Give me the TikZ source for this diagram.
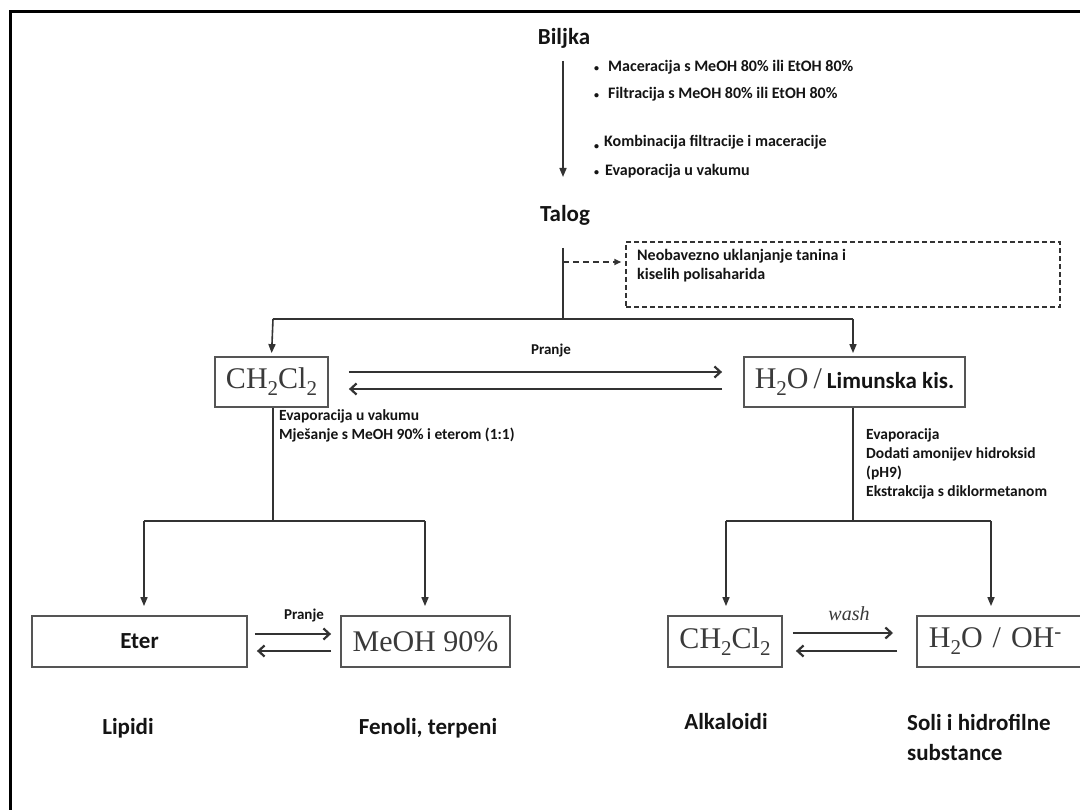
\documentclass[tikz,border=0pt]{standalone}
\usepackage{fontspec}
\setmainfont{Carlito}
\newfontfamily\tnr{Liberation Serif}
\usetikzlibrary{arrows.meta}
\definecolor{ln}{HTML}{333333}
\definecolor{bx}{HTML}{555555}
\definecolor{tx}{HTML}{141414}
\definecolor{sr}{HTML}{3A3A3A}
\newcommand{\lowtwo}{\raisebox{-7pt}{\fontsize{21}{21}\selectfont 2}}
\begin{document}
\begin{tikzpicture}[x=1pt,y=-1pt,
  flow/.style={draw=ln, line width=1.6pt, -{Triangle[length=9pt,width=7pt]}},
  conn/.style={draw=ln, line width=1.6pt},
  washarrow/.style={draw=ln, line width=2.2pt, -{Straight Barb[length=6pt,width=11pt]}},
  box/.style={draw=bx, line width=1.8pt, inner sep=0pt, minimum height=50pt, font=\tnr\fontsize{30}{32}\selectfont, text=sr},
  big/.style={font=\bfseries\fontsize{23}{26}\selectfont, text=tx, inner sep=0pt},
  bul/.style={font=\bfseries\fontsize{16}{19}\selectfont, text=tx, anchor=west, inner sep=0pt},
  note/.style={font=\bfseries\fontsize{15.5}{19}\selectfont, text=tx, align=left, inner sep=0pt},
  small/.style={font=\bfseries\fontsize{15}{18}\selectfont, text=tx, inner sep=0pt}]
\useasboundingbox (0,0) rectangle (1080,810);
\fill[white] (0,0) rectangle (1080,810);
\clip (0,0) rectangle (1080,810);
% frame
\draw[line width=3pt, black] (10.5,810) -- (10.5,12) -- (1080,12);

% top
\node[big] (biljka) at (564,38) {Biljka};
\node[big] (talog) at (565,215) {Talog};
\coordinate (a1) at (563,61);
\coordinate (a2) at (563,177);
\draw[flow] (a1) -- (a2);
\node[bul] (b1) at (594,67) {\fontsize{10}{10}\selectfont•\hspace{9pt}\fontsize{16}{19}\selectfont Maceracija s MeOH 80\% ili EtOH 80\%};
\node[bul] (b2) at (594,94) {\fontsize{10}{10}\selectfont•\hspace{9pt}\fontsize{16}{19}\selectfont Filtracija s MeOH 80\% ili EtOH 80\%};
\node[bul] (b3) at (594,142) {\raisebox{-3pt}{\fontsize{10}{10}\selectfont•}\hspace{5pt}\fontsize{16}{19}\selectfont Kombinacija filtracije i maceracije};
\node[bul] (b4) at (594,171) {\fontsize{10}{10}\selectfont•\hspace{6pt}\fontsize{16}{19}\selectfont Evaporacija u vakumu};

% split under Talog
\coordinate (t0) at (563,248);
\coordinate (t1) at (563,319);
\coordinate (tl) at (273,319);
\coordinate (tr) at (853,319);
\coordinate (td) at (563,262);
\node[draw=ln, dash pattern=on 5pt off 3pt, line width=1.5pt, minimum width=434pt, minimum height=65pt, inner sep=0pt] (opt) at (843,274.5) {};
\node[font=\bfseries\fontsize{16}{19}\selectfont, text=tx, align=left, anchor=north west, inner sep=0pt] (opttxt) at (637,249) {Neobavezno uklanjanje tanina i\\kiselih polisaharida};
\draw[conn] (t0) -- (t1);
\draw[conn, dash pattern=on 6pt off 4pt, -{Triangle[length=7pt,width=6pt]}] (td) -- ([xshift=-4pt]td -| opt.west);

% upper boxes
\node[box, minimum width=113pt] (ch2) at (271.5,382) {CH\lowtwo Cl\lowtwo};
\node[box, minimum width=221pt] (h2o) at (854.5,382) {H\lowtwo O\,/\,{\rmfamily\bfseries\fontsize{23}{26}\selectfont\color{tx}Limunska kis.}};
\draw[conn] (tl) -- (tr);
\draw[flow, shorten >=3pt] (tl) -- (ch2.north);
\draw[flow, shorten >=3pt] (tr) -- (h2o.north -| tr);

\draw[washarrow, shorten <=20pt, shorten >=21pt] ([yshift=10pt]ch2.east) -- ([yshift=10pt]h2o.west);
\draw[washarrow, shorten <=21pt, shorten >=20pt] ([yshift=-7pt]h2o.west) -- ([yshift=-7pt]ch2.east);
\node[small] (pr1) at (551,351) {Pranje};

% left branch
\node[note, anchor=north west] (n1) at (279,409) {Evaporacija u vakumu\\Mješanje s MeOH 90\% i eterom (1:1)};
\coordinate (l1) at (273,521);
\coordinate (ll) at (144,521);
\coordinate (lr) at (425,521);
\draw[conn] (ch2.south -| l1) -- (l1);
\draw[conn] (ll) -- (lr);

% right branch
\node[note, anchor=north west] (n2) at (866,428) {Evaporacija\\Dodati amonijev hidroksid\\(pH9)\\Ekstrakcija s diklormetanom};
\coordinate (r1) at (853,521);
\coordinate (rl) at (726,521);
\coordinate (rr) at (991,521);
\draw[conn] (h2o.south -| r1) -- (r1);
\draw[conn] (rl) -- (rr);

% bottom boxes
\node[box, minimum width=215pt, minimum height=51pt, font=\bfseries\fontsize{23}{26}\selectfont, text=tx] (eter) at (139.5,641.5) {Eter};
\node[box, minimum width=169pt, minimum height=51pt] (meoh) at (425.5,641.5) {MeOH 90\%};
\node[box, minimum width=114pt, minimum height=51pt] (ch2b) at (725,641.5) {CH\lowtwo Cl\lowtwo};
\node[box, minimum width=180pt, minimum height=51pt, text width=168pt, align=left, inner xsep=12pt, anchor=west] (h2ob) at (916,641.5) {H\lowtwo O / OH\textsuperscript{-}};

\draw[flow, shorten >=9pt] (ll) -- (ll |- eter.north);
\draw[flow, shorten >=9pt] (lr) -- (meoh.north -| lr);
\draw[flow, shorten >=9pt] (rl) -- (ch2b.north -| rl);
\draw[flow, shorten >=9pt] (rr) -- (h2ob.north -| rr);

\draw[washarrow, shorten <=7pt, shorten >=9pt] ([yshift=7.5pt]eter.east) -- ([yshift=7.5pt]meoh.west);
\draw[washarrow, shorten <=9pt, shorten >=9pt] ([yshift=-9.5pt]meoh.west) -- ([yshift=-9.5pt]eter.east);
\node[small] (pr2) at (304,616) {Pranje};

\draw[washarrow, shorten <=10pt, shorten >=23pt] ([yshift=8.5pt]ch2b.east) -- ([yshift=8.5pt]h2ob.west);
\draw[washarrow, shorten <=19pt, shorten >=13pt] ([yshift=-9.5pt]h2ob.west) -- ([yshift=-9.5pt]ch2b.east);
\node[font=\tnr\itshape\fontsize{20}{22}\selectfont, text=sr, inner sep=0pt] (wash) at (849,614) {wash};

% results
\node[big] (lip) at (128,728) {Lipidi};
\node[big] (fen) at (428,728) {Fenoli, terpeni};
\node[big] (alk) at (726,722) {Alkaloidi};
\node[big, align=left, anchor=west, font=\bfseries\fontsize{23}{30}\selectfont] (soli) at (907,737) {Soli i hidrofilne\\substance};
\end{tikzpicture}
\end{document}
